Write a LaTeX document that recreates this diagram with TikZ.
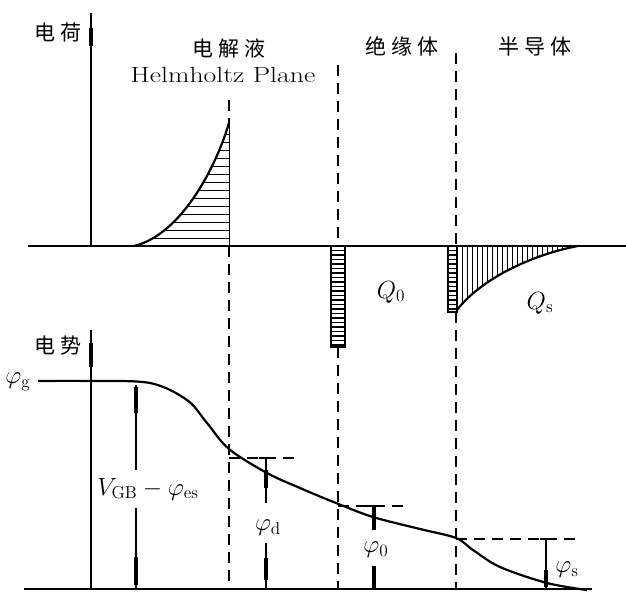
\documentclass[tikz,border=0pt]{standalone}
\usepackage{fontspec}
\newfontfamily\cjk[LetterSpace=22]{Noto Sans CJK SC}
\newcommand\mybig[1]{\scalebox{1.2}{#1}}
\usetikzlibrary{arrows.meta}
\begin{document}
\begin{tikzpicture}[x=1pt,y=-1pt,
  axis/.style={line width=1.5pt},
  guide/.style={line width=1.3pt, dash pattern=on 11pt off 7pt},
  curve/.style={line width=2.2pt},
  dim/.style={line width=1.1pt},
  dimthick/.style={line width=3.6pt},
  hatch/.style={line width=1pt},
  cjklabel/.style={font=\cjk\fontsize{21}{25}\selectfont, inner sep=0pt},
  mlabel/.style={font=\fontsize{20.74}{25}\selectfont, inner sep=0pt}]
\useasboundingbox (0,0) rectangle (626,592);

% ---------- upper (charge) diagram ----------
\draw[axis] (28,246) -- (626,246);
\draw[axis] (91,246) -- (91,13);
\draw[dimthick] (91,28) -- (91,46);

% guide lines
\draw[guide] (229,100) -- (229,123);
\draw[guide] (229,246) -- (229,589);
\draw[guide] (338,65) -- (338,246);
\draw[guide] (338,347) -- (338,589);
\draw[guide] (456,53) -- (456,246);
\draw[guide] (456,312) -- (456,589);

% electrolyte charge
\begin{scope}
\clip (134,246) .. controls (180,235) and (215,170) .. (229,123) -- (229,246) -- cycle;
\foreach \y in {126,134,...,246} \draw[hatch] (120,\y) -- (232,\y);
\end{scope}
\draw[curve] (134,246) .. controls (180,235) and (215,170) .. (229,123);
\draw[hatch] (229,123) -- (229,246);

% insulator charge
\draw[line width=1.2pt] (331,246) rectangle (345,347);
\foreach \y in {250.5,255,...,346} \draw[line width=1.3pt] (331,\y) -- (345,\y);

% semiconductor charge
\draw[line width=1.2pt] (448,246) rectangle (457,312);
\foreach \y in {250.5,255,...,311} \draw[line width=1.3pt] (448,\y) -- (457,\y);
\begin{scope}
\clip (457,246) -- (457,310) .. controls (480,280) and (530,255) .. (578,246) -- cycle;
\foreach \x in {462,467,...,580} \draw[hatch] (\x,240) -- (\x,320);
\end{scope}
\draw[curve] (457,310) .. controls (480,280) and (530,255) .. (578,246);

% labels upper
\node[cjklabel] (qcharge) at (58,33) {电荷};
\node[cjklabel] (elec) at (229,49) {电解液};
\node[font=\fontsize{22}{26}\selectfont, inner sep=0pt] (hplane) at (223,75) {\scalebox{1.26}[1]{Helmholtz Plane}};
\node[cjklabel] (ins) at (402,46) {绝缘体};
\node[cjklabel] (semi) at (535,46) {半导体};
\node[mlabel] (q0) at (391,292) {\mybig{$Q_0$}};
\node[mlabel] (qs) at (540,303) {\mybig{$Q_{\mathrm s}$}};

% ---------- lower (potential) diagram ----------
\draw[axis] (24,589) -- (592,589);
\draw[axis] (91,589) -- (91,330);
\draw[dimthick] (91,343) -- (91,367);
\node[cjklabel] (pot) at (58,346) {电势};
\node[mlabel] (phig) at (18,382) {\mybig{$\varphi_{\mathrm g}$}};

\draw[curve] plot[smooth,tension=0.55] coordinates {(38,381) (90,381) (150,383) (187,400) (207,423) (229,449) (267,473) (300,488) (336,503) (373,517) (420,529) (456,538) (473,550) (500,567) (547,583) (587,590)};

% V_GB - phi_es
\draw[dim] (136,385) -- (136,470);
\draw[dimthick] (136,387) -- (136,413);
\draw[dim] (136,508) -- (136,589);
\draw[dimthick] (136,557) -- (136,585);
\node[mlabel] (vgb) at (148,489) {\mybig{$V_{\mathrm{GB}}-\varphi_{\mathrm{es}}$}};

% phi_d
\draw[guide] (229,458) -- (296,458);
\draw[dim] (259,458) -- (274,458);
\draw[dim] (266,458) -- (266,503);
\draw[dimthick] (266,470) -- (266,488);
\draw[dim] (266,543) -- (266,589);
\draw[dimthick] (266,558) -- (266,580);
\node[mlabel] (phid) at (268,528) {\mybig{$\varphi_{\mathrm d}$}};

% phi_0
\draw[guide] (338,506) -- (405,506);
\draw[dim] (367,506) -- (381,506);
\draw[dimthick] (374,506) -- (374,530);
\draw[dimthick] (374,566) -- (374,589);
\node[mlabel] (phi0) at (376,550) {\mybig{$\varphi_0$}};

% phi_s
\draw[guide] (456,539) -- (580,539);
\draw[dim] (540,539) -- (552,539);
\draw[dim] (546,539) -- (546,589);
\draw[dimthick] (546,570) -- (546,587);
\node[mlabel] (phis) at (567,570) {\mybig{$\varphi_{\mathrm s}$}};
\end{tikzpicture}
\end{document}
